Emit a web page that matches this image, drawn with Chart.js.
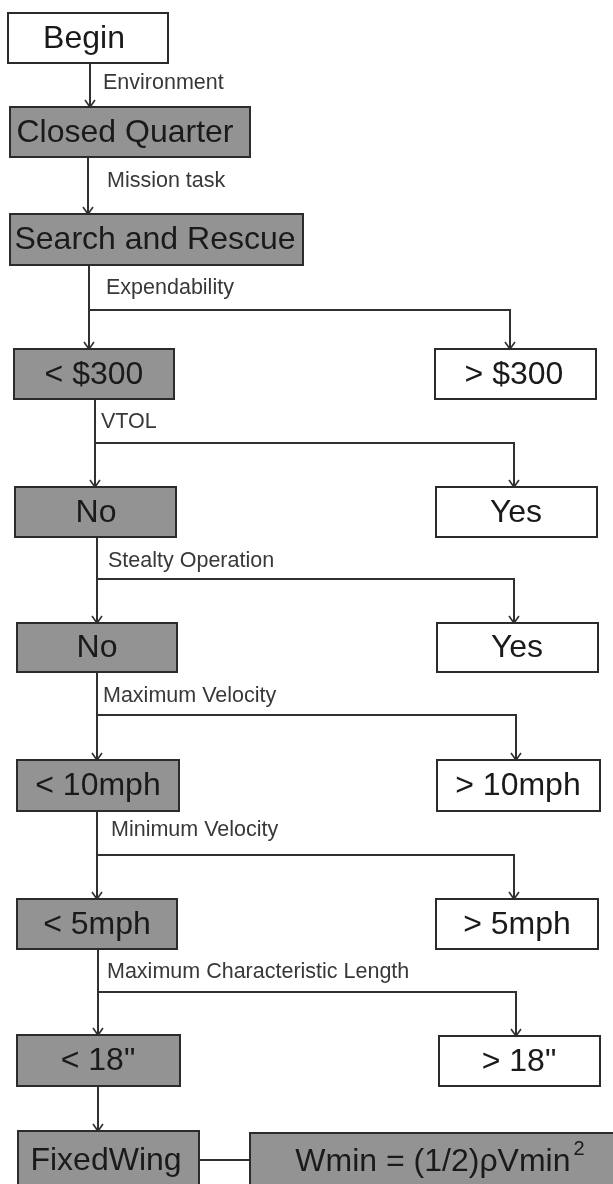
<!DOCTYPE html>
<html>
<head>
<meta charset="utf-8">
<script src="https://cdn.jsdelivr.net/npm/chart.js@4.4.1/dist/chart.umd.min.js"></script>
<style>
	html, body { margin: 0; padding: 0; background: #fff; }
	#wrap { position: relative; width: 613px; height: 1184px; }
</style>
</head>
<body>
<div id="wrap"><canvas id="myChart"></canvas></div>
<script>
// Boxes (in chart units, y grows downward)
const boxLabels = ["Begin", "Closed Quarter", "Search and Rescue", "< $300", "> $300", "No", "Yes", "No", "Yes",
	"< 10mph", "> 10mph", "< 5mph", "> 5mph", "< 18\"", "> 18\"", "FixedWing", "Wmin = (1/2)\u03C1Vmin^2"];
const boxLeft = [8, 10, 10, 14, 435, 15, 436, 17, 437, 17, 437, 17, 436, 17, 439, 18, 250];
const boxRight = [168, 250, 303, 174, 596, 176, 597, 177, 598, 179, 600, 177, 598, 180, 600, 199, 620];
const boxTop = [13, 107, 214, 349, 349, 487, 487, 623, 623, 760, 760, 899, 899, 1035, 1036, 1131, 1133];
const boxBottom = [63, 157, 265, 399, 399, 537, 537, 672, 672, 811, 811, 949, 949, 1086, 1086, 1190, 1190];
const boxTextX = [84, 125, 155, 94, 514, 96, 516, 97, 517, 98, 518, 97, 517, 98, 519, 106, 440];
const boxChosen = [false, true, true, true, false, true, false, true, false, true, false, true, false, true, false, true, true];

// Edge labels
const edgeLabels = ["Environment", "Mission task", "Expendability", "VTOL", "Stealty Operation",
	"Maximum Velocity", "Minimum Velocity", "Maximum Characteristic Length"];
const edgeLabelX = [103, 107, 106, 101, 108, 103, 111, 107];
const edgeLabelY = [83, 181, 288, 422, 561, 696, 830, 972];

// Connectors: a stem down from each box, and a fork to the right for decisions
const stemX = [90, 88, 89, 95, 97, 97, 97, 98, 98];
const stemTop = [63, 157, 265, 399, 537, 672, 811, 949, 1086];
const stemBottom = [107, 214, 349, 487, 623, 760, 899, 1035, 1131];
const forkY = [null, null, 310, 443, 579, 715, 855, 992, null];
const forkX = [null, null, 510, 514, 514, 516, 514, 516, null];
const forkBottom = [null, null, 349, 487, 623, 760, 899, 1036, null];
const linkX = [199, 250];
const linkY = 1160;

const lineColor = "#303030";
const datasets = [];
stemX.forEach((x, i) => {
	datasets.push({ data: [{ x: x, y: stemTop[i] }, { x: x, y: stemBottom[i] }], arrow: true });
	if (forkY[i] !== null) {
		datasets.push({
			data: [{ x: x, y: forkY[i] }, { x: forkX[i], y: forkY[i] }, { x: forkX[i], y: forkBottom[i] }],
			arrow: true,
		});
	}
});
datasets.push({ data: [{ x: linkX[0], y: linkY }, { x: linkX[1], y: linkY }], arrow: false });
datasets.forEach((ds) => {
	ds.showLine = true;
	ds.pointRadius = 0;
	ds.borderColor = lineColor;
	ds.borderWidth = 2;
	ds.tension = 0;
});

const flowPlugin = {
	id: "flow",
	afterDatasetsDraw(chart) {
		const ctx = chart.ctx;
		const sx = chart.scales.x;
		const sy = chart.scales.y;

		// arrowheads
		ctx.save();
		ctx.strokeStyle = lineColor;
		ctx.lineWidth = 1.6;
		chart.data.datasets.forEach((ds) => {
			if (!ds.arrow) return;
			const p = ds.data[ds.data.length - 1];
			const px = sx.getPixelForValue(p.x);
			const py = sy.getPixelForValue(p.y);
			ctx.beginPath();
			ctx.moveTo(px - 5, py - 7);
			ctx.lineTo(px, py);
			ctx.lineTo(px + 5, py - 7);
			ctx.stroke();
		});
		ctx.restore();

		// boxes
		ctx.save();
		boxLabels.forEach((label, i) => {
			const x0 = sx.getPixelForValue(boxLeft[i]);
			const x1 = sx.getPixelForValue(boxRight[i]);
			const y0 = sy.getPixelForValue(boxTop[i]);
			const y1 = sy.getPixelForValue(boxBottom[i]);
			ctx.fillStyle = boxChosen[i] ? "#939393" : "#ffffff";
			ctx.fillRect(x0, y0, x1 - x0, y1 - y0);
			ctx.strokeStyle = "#2b2b2b";
			ctx.lineWidth = 2;
			ctx.strokeRect(x0, y0, x1 - x0, y1 - y0);

			const parts = label.split("^");
			const cx = sx.getPixelForValue(boxTextX[i]);
			const cy = sy.getPixelForValue(i === 16 ? 1161 : (boxTop[i] + boxBottom[i]) / 2);
			ctx.font = "32px 'Liberation Sans', Arial, sans-serif";
			ctx.fillStyle = "#1a1a1a";
			ctx.textBaseline = "middle";
			if (parts.length === 1) {
				ctx.textAlign = "center";
				ctx.fillText(label, cx, cy + 1);
			} else {
				const w = ctx.measureText(parts[0]).width;
				ctx.font = "20px 'Liberation Sans', Arial, sans-serif";
				const ws = ctx.measureText(parts[1]).width;
				const left = cx - (w + ws + 3) / 2;
				ctx.textAlign = "left";
				ctx.font = "32px 'Liberation Sans', Arial, sans-serif";
				ctx.fillText(parts[0], left, cy + 1);
				ctx.font = "20px 'Liberation Sans', Arial, sans-serif";
				ctx.fillText(parts[1], left + w + 3, cy - 12);
			}
		});

		// edge labels
		ctx.font = "21.5px 'Liberation Sans', Arial, sans-serif";
		ctx.fillStyle = "#383838";
		ctx.textAlign = "left";
		ctx.textBaseline = "middle";
		edgeLabels.forEach((t, i) => {
			ctx.fillText(t, sx.getPixelForValue(edgeLabelX[i]), sy.getPixelForValue(edgeLabelY[i]));
		});
		ctx.restore();
	},
};

const config = {
	type: "scatter",
	data: { datasets: datasets },
	options: {
		responsive: true,
		maintainAspectRatio: false,
		animation: false,
		layout: { padding: 0 },
		plugins: {
			legend: { display: false },
			tooltip: { enabled: false },
		},
		scales: {
			x: { type: "linear", min: 0, max: 613, display: false },
			y: { type: "linear", min: 0, max: 1184, reverse: true, display: false },
		},
	},
	plugins: [flowPlugin],
};

var myChart = new Chart(document.getElementById("myChart"), config);
</script>
</body>
</html>
